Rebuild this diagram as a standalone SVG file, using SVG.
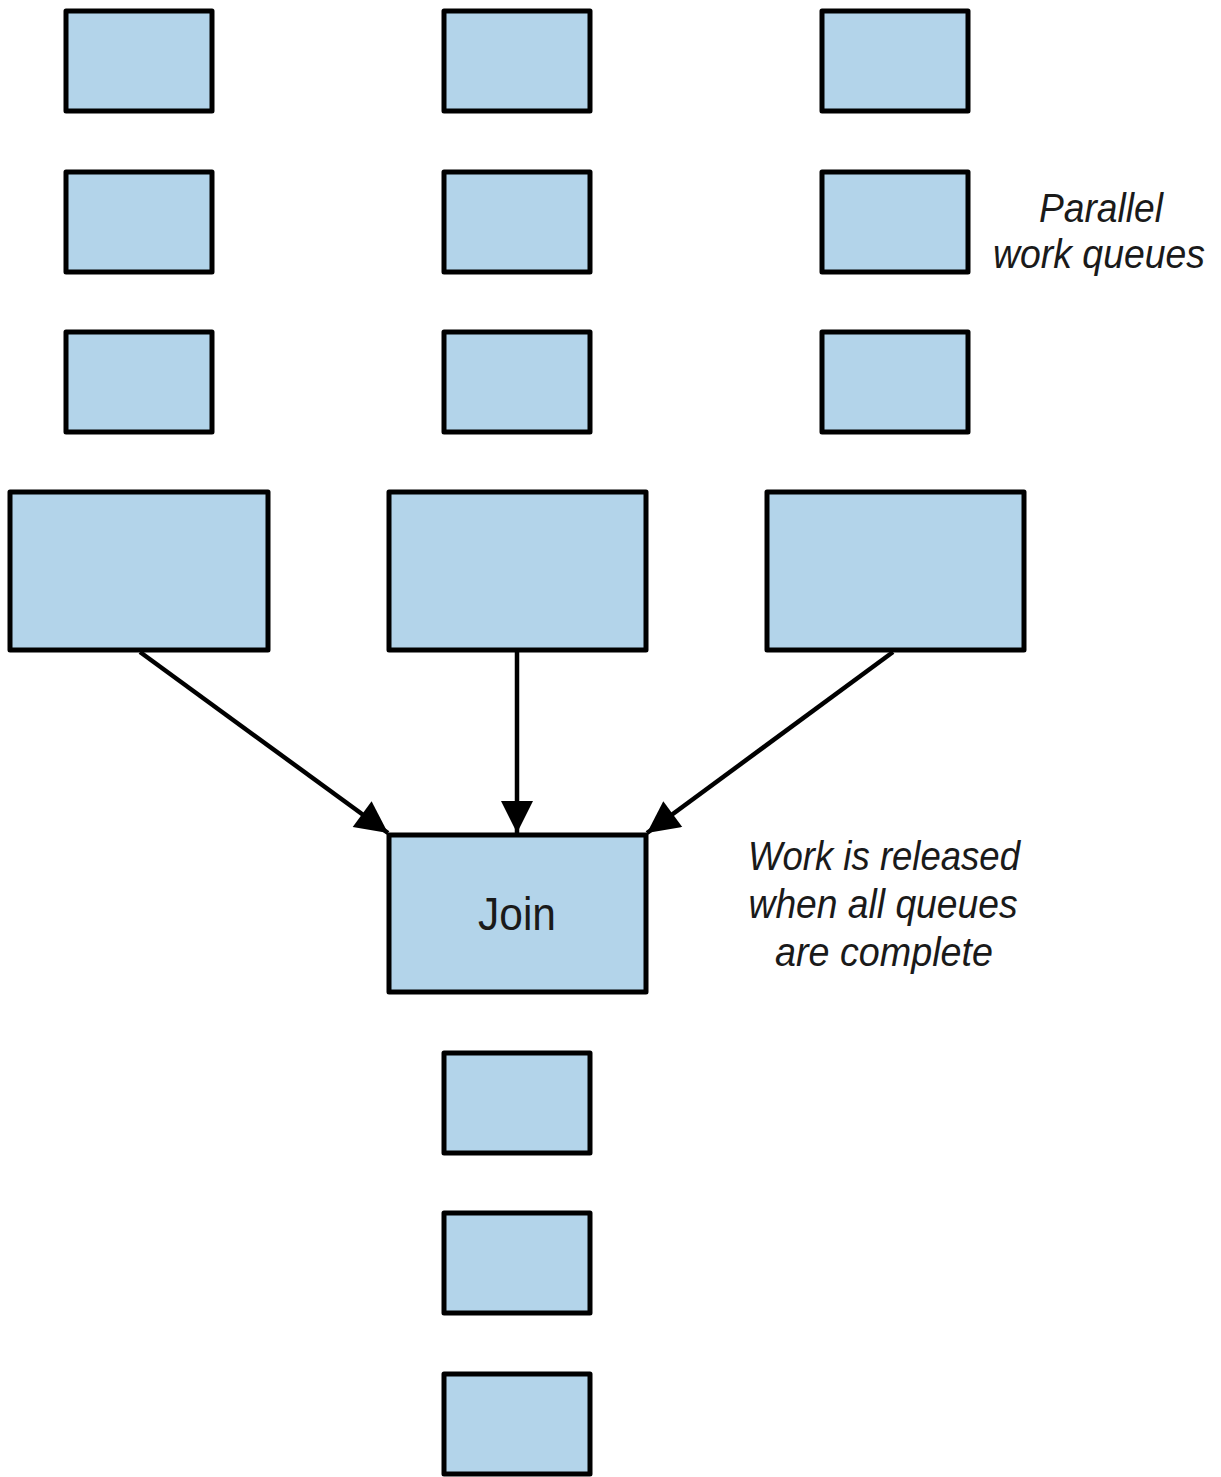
<svg xmlns="http://www.w3.org/2000/svg" width="1221" height="1477" viewBox="0 0 1221 1477">
<style>
.box{fill:#b3d4ea;stroke:#000;stroke-width:5;stroke-linejoin:round}
.conn{stroke:#000;stroke-width:4.5;fill:none}
.note{font-family:"Liberation Sans",Arial,sans-serif;font-style:italic;font-size:40px;fill:#1a1a1a;text-anchor:middle}
.lbl{font-family:"Liberation Sans",Arial,sans-serif;font-size:46px;fill:#1a1a1a;text-anchor:middle}
</style>
<defs>
<marker id="ah" viewBox="0 0 10 10" refX="10" refY="5" markerWidth="36" markerHeight="32" markerUnits="userSpaceOnUse" orient="auto">
<path d="M0,0 L10,5 L0,10 Z" fill="#000"/>
</marker>
</defs>
<rect width="1221" height="1477" fill="#fff"/>
<g id="q1">
<rect id="q1a" class="box" x="66" y="11" width="146" height="100"/>
<rect id="q1b" class="box" x="66" y="172" width="146" height="100"/>
<rect id="q1c" class="box" x="66" y="332" width="146" height="100"/>
<rect id="q1d" class="box" x="10" y="492" width="258" height="158"/>
</g>
<g id="q2">
<rect id="q2a" class="box" x="444" y="11" width="146" height="100"/>
<rect id="q2b" class="box" x="444" y="172" width="146" height="100"/>
<rect id="q2c" class="box" x="444" y="332" width="146" height="100"/>
<rect id="q2d" class="box" x="389" y="492" width="257" height="158"/>
</g>
<g id="q3">
<rect id="q3a" class="box" x="822" y="11" width="146" height="100"/>
<rect id="q3b" class="box" x="822" y="172" width="146" height="100"/>
<rect id="q3c" class="box" x="822" y="332" width="146" height="100"/>
<rect id="q3d" class="box" x="767" y="492" width="257" height="158"/>
</g>
<g id="join">
<rect class="box" x="389" y="835" width="257" height="157"/>
<text class="lbl" x="517" y="930" textLength="78" lengthAdjust="spacingAndGlyphs">Join</text>
</g>
<g id="out">
<rect id="o1" class="box" x="444" y="1053" width="146" height="100"/>
<rect id="o2" class="box" x="444" y="1213" width="146" height="100"/>
<rect id="o3" class="box" x="444" y="1374" width="146" height="100"/>
</g>
<g id="connectors">
<line class="conn" x1="140" y1="652" x2="388" y2="833" marker-end="url(#ah)"/>
<line class="conn" x1="517" y1="652" x2="517" y2="833" marker-end="url(#ah)"/>
<line class="conn" x1="893" y1="652" x2="647" y2="833" marker-end="url(#ah)"/>
</g>
<g id="notes">
<text class="note" x="1101" y="222" textLength="124" lengthAdjust="spacingAndGlyphs">Parallel</text>
<text class="note" x="1099" y="268" textLength="212" lengthAdjust="spacingAndGlyphs">work queues</text>
<text class="note" x="884" y="870" textLength="272" lengthAdjust="spacingAndGlyphs">Work is released</text>
<text class="note" x="883" y="918" textLength="269" lengthAdjust="spacingAndGlyphs">when all queues</text>
<text class="note" x="884" y="966" textLength="218" lengthAdjust="spacingAndGlyphs">are complete</text>
</g>
</svg>
